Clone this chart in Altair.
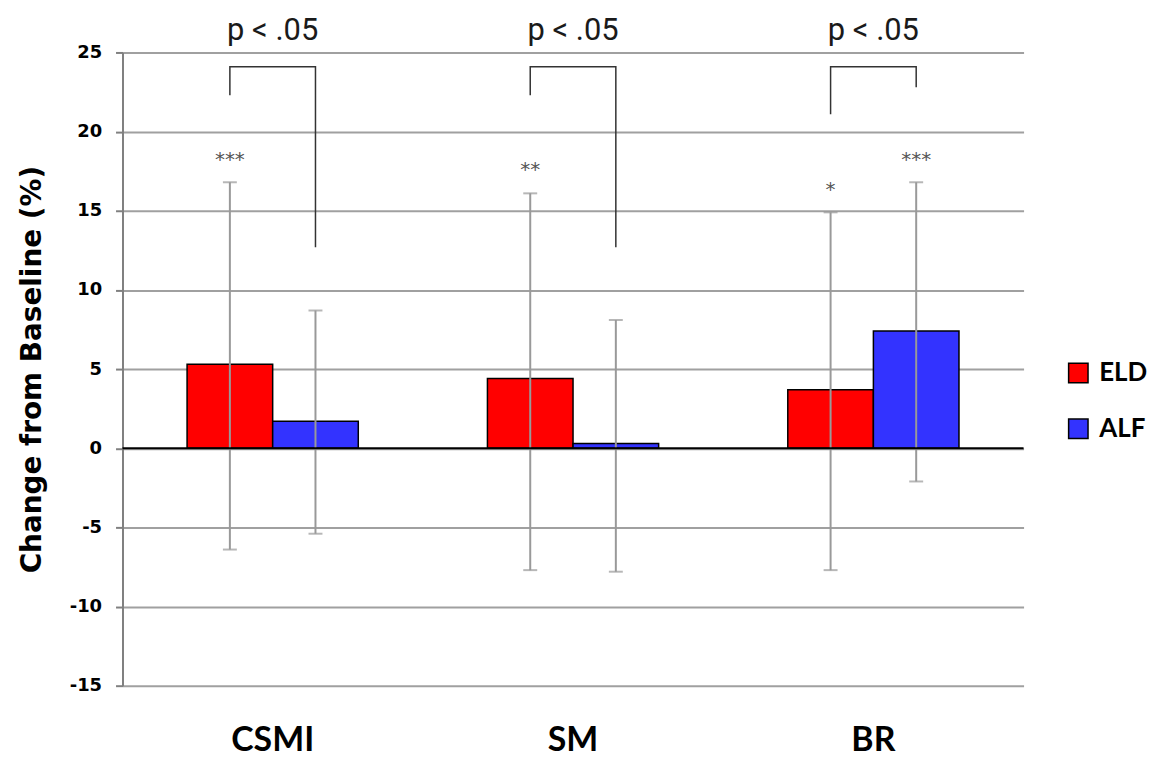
import altair as alt
import pandas as pd

categories = ["CSMI", "SM", "BR"]
groups = ["ELD", "ALF"]
colors = ["#FF0000", "#3333FF"]

eld_means = [5.3, 4.4, 3.7]
alf_means = [1.7, 0.3, 7.4]
eld_upper = [16.8, 16.1, 14.9]
eld_lower = [-6.4, -7.7, -7.7]
alf_upper = [8.7, 8.1, 16.8]
alf_lower = [-5.4, -7.8, -2.1]

eld_stars = ["***", "**", "*"]
alf_stars = ["", "", "***"]
eld_star_y = [18.2, 17.6, 16.3]
alf_star_y = [18.2, 18.2, 18.2]

bracket_top = [24.1, 24.1, 24.1]
bracket_left_bottom = [22.3, 22.3, 21.1]
bracket_right_bottom = [12.7, 12.7, 22.8]
p_labels = ["p < .05", "p < .05", "p < .05"]
p_label_y = [25.8, 25.8, 25.8]

y_ticks = [25, 20, 15, 10, 5, 0, -5, -10, -15]

rows = []
for i, c in enumerate(categories):
    rows.append({"cat": c, "grp": "ELD", "mean": eld_means[i], "lo": eld_lower[i], "hi": eld_upper[i]})
    rows.append({"cat": c, "grp": "ALF", "mean": alf_means[i], "lo": alf_lower[i], "hi": alf_upper[i]})
df = pd.DataFrame(rows)

star_rows = []
for i, c in enumerate(categories):
    if eld_stars[i]:
        star_rows.append({"cat": c, "grp": "ELD", "y": eld_star_y[i], "t": eld_stars[i]})
    if alf_stars[i]:
        star_rows.append({"cat": c, "grp": "ALF", "y": alf_star_y[i], "t": alf_stars[i]})
stars_df = pd.DataFrame(star_rows)

br_rows = []
for i, c in enumerate(categories):
    br_rows += [
        {"cat": c, "grp": "ELD", "y": bracket_left_bottom[i], "o": 0},
        {"cat": c, "grp": "ELD", "y": bracket_top[i], "o": 1},
        {"cat": c, "grp": "ALF", "y": bracket_top[i], "o": 2},
        {"cat": c, "grp": "ALF", "y": bracket_right_bottom[i], "o": 3},
    ]
br_df = pd.DataFrame(br_rows)

p_df = pd.DataFrame({"cat": categories, "t": p_labels, "y": p_label_y})

xscale = alt.Scale(domain=categories, paddingInner=0.43, paddingOuter=0.215)
xoff = alt.XOffset("grp:N", sort=groups, scale=alt.Scale(domain=groups, paddingInner=0, paddingOuter=0))
yscale = alt.Scale(domain=[-15, 25], nice=False, zero=False)

x_enc = alt.X("cat:N", sort=categories, scale=xscale,
              axis=alt.Axis(title=None, labelAngle=0, domain=False, ticks=False,
                            labelFont="Lato", labelFontWeight="bold", labelFontSize=34,
                            labelColor="black", labelPadding=38))
y_enc = alt.Y("mean:Q", scale=yscale,
              axis=alt.Axis(title="Change from Baseline (%)", values=y_ticks,
                            labelExpr="'' + datum.value",
                            grid=True, gridColor="#a0a0a0", gridWidth=2,
                            domainColor="#808080", domainWidth=2,
                            tickColor="#808080", tickWidth=2, tickSize=7,
                            labelFont="DejaVu Sans", labelFontWeight="bold", labelFontSize=18,
                            labelColor="black", labelPadding=14,
                            titleFont="DejaVu Sans", titleFontWeight="bold", titleFontSize=28,
                            titleColor="black", titlePadding=23))

bars = alt.Chart(df).mark_bar(stroke="black", strokeWidth=1.5).encode(
    x=x_enc, xOffset=xoff, y=y_enc,
    color=alt.Color("grp:N", sort=groups, scale=alt.Scale(domain=groups, range=colors),
                    legend=alt.Legend(title=None, orient="none", legendX=947, legendY=309,
                                      symbolType="square", symbolSize=380,
                                      symbolStrokeColor="black", symbolStrokeWidth=1.5,
                                      labelFont="Lato", labelFontWeight="bold",
                                      labelFontSize=26, labelColor="black",
                                      rowPadding=30, labelOffset=8)),
)

zero = alt.Chart(pd.DataFrame({"y": [0]})).mark_rule(color="black", strokeWidth=2).encode(
    y=alt.Y("y:Q", scale=yscale))

err = alt.Chart(df).mark_rule(color="#999999", strokeWidth=2).encode(
    x=alt.X("cat:N", sort=categories, scale=xscale), xOffset=xoff,
    y=alt.Y("lo:Q", scale=yscale), y2="hi:Q")

cap_hi = alt.Chart(df).mark_tick(color="#999999", thickness=2, size=14).encode(
    x=alt.X("cat:N", sort=categories, scale=xscale), xOffset=xoff,
    y=alt.Y("hi:Q", scale=yscale))
cap_lo = alt.Chart(df).mark_tick(color="#999999", thickness=2, size=14).encode(
    x=alt.X("cat:N", sort=categories, scale=xscale), xOffset=xoff,
    y=alt.Y("lo:Q", scale=yscale))

stars = alt.Chart(stars_df).mark_text(font="DejaVu Sans", fontSize=20, color="#555555",
                                       baseline="middle").encode(
    x=alt.X("cat:N", sort=categories, scale=xscale), xOffset=xoff,
    y=alt.Y("y:Q", scale=yscale), text="t:N")

brackets = alt.Chart(br_df).mark_line(color="#333333", strokeWidth=1.5, clip=False).encode(
    x=alt.X("cat:N", sort=categories, scale=xscale), xOffset=xoff,
    y=alt.Y("y:Q", scale=yscale), detail="cat:N", order="o:Q")

ptext = alt.Chart(p_df).mark_text(font="Roboto", fontSize=31, color="#1a1a1a",
                                   baseline="alphabetic").encode(
    x=alt.X("cat:N", sort=categories, scale=xscale),
    y=alt.Y("y:Q", scale=yscale), text="t:N")

chart = alt.layer(bars, err, cap_hi, cap_lo, zero, stars, brackets, ptext).properties(
    width=905, height=636,
    padding={"top": 5, "left": 10, "right": 5, "bottom": 5}
).configure_view(stroke=None).configure_axisX(grid=False)

chart.save("out.html", embed_options={"renderer": "svg", "actions": False})
